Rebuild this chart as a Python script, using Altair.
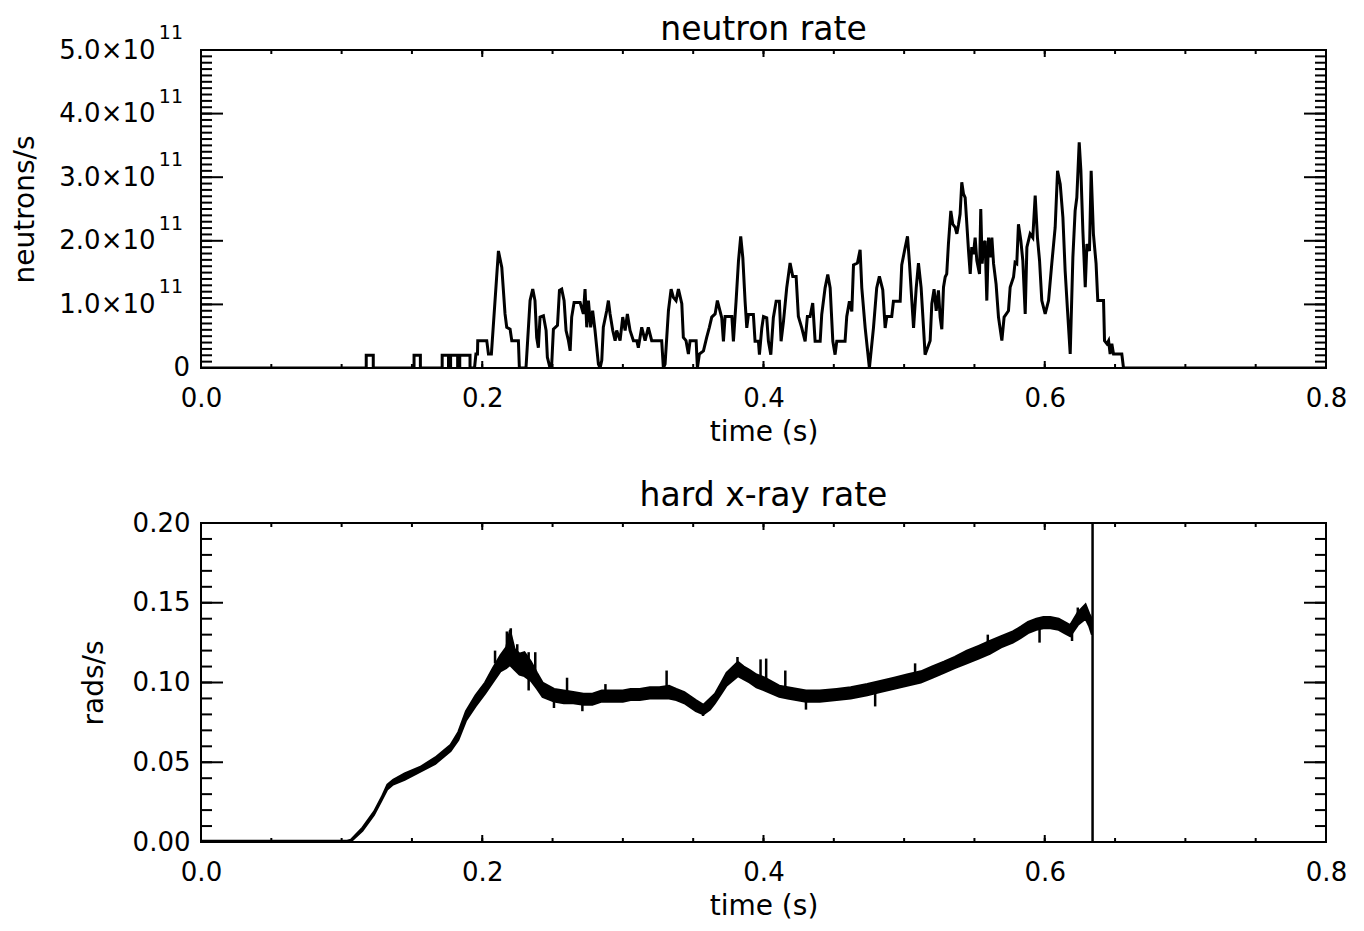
import altair as alt
import pandas as pd

# ---------------- data ----------------
# neutron rate, time (s) and value in units of 1e11 neutrons/s
neutron_t = [
    0.0, 0.1175, 0.1175, 0.1225, 0.1225,
    0.1515, 0.1515, 0.156, 0.156,
    0.1715, 0.1715, 0.176, 0.176,
    0.1775, 0.1775, 0.1825, 0.1825,
    0.184, 0.184, 0.1913, 0.1913,
    0.1945, 0.1955, 0.1966, 0.1968, 0.2032, 0.2044, 0.2065, 0.2115, 0.2139, 0.2162,
    0.2174, 0.2198, 0.2210, 0.2257, 0.2264, 0.2311, 0.2340, 0.2359, 0.2375, 0.2387,
    0.2399, 0.2411, 0.2435, 0.2454, 0.2463, 0.2482, 0.2494, 0.2506, 0.2535, 0.2549,
    0.2565, 0.2582, 0.2596, 0.2613, 0.2625, 0.2636, 0.2653, 0.2696, 0.2719, 0.2731,
    0.2743, 0.2755, 0.2771, 0.2785, 0.2802, 0.2826, 0.2838, 0.2850, 0.2861, 0.2885,
    0.2897, 0.2909, 0.2928, 0.2945, 0.2956, 0.2980, 0.2999, 0.3016, 0.3032, 0.3051,
    0.3075, 0.3099, 0.3110, 0.3134, 0.3158, 0.3181, 0.3205, 0.3276, 0.3288, 0.3300,
    0.3324, 0.3343, 0.3359, 0.3378, 0.3395, 0.3419, 0.3430, 0.3449, 0.3466, 0.3478,
    0.3521, 0.3530, 0.3544, 0.3573, 0.3596, 0.3615, 0.3632, 0.3656, 0.3672,
    0.3703, 0.3715, 0.3727, 0.3775, 0.3786, 0.3805, 0.3822, 0.3838, 0.3853, 0.3869,
    0.3881, 0.3893, 0.3928, 0.3940, 0.3964, 0.3971, 0.3988, 0.4000, 0.4023, 0.4035,
    0.4052, 0.4070, 0.4090, 0.4113, 0.4125, 0.4142, 0.4165, 0.4189, 0.4208, 0.4232,
    0.4248, 0.4272, 0.4296, 0.4312, 0.4331, 0.4350, 0.4367, 0.4403, 0.4414, 0.4438,
    0.4457, 0.4474, 0.4493, 0.4509, 0.4521, 0.4580, 0.4592, 0.4611, 0.4628, 0.4640,
    0.4668, 0.4687, 0.4699, 0.4723, 0.4753, 0.4782, 0.4805, 0.4824, 0.4848, 0.4865,
    0.4877, 0.4912, 0.4924, 0.4972, 0.4983, 0.5007, 0.5024, 0.5038, 0.5055, 0.5067,
    0.5086, 0.5102, 0.5121, 0.5138, 0.5149,
    0.5185, 0.5197, 0.5213, 0.5228, 0.5244, 0.5256, 0.5268, 0.5280, 0.5292, 0.5303,
    0.5315, 0.5332, 0.5346, 0.5363, 0.5375, 0.5387, 0.5398, 0.5410, 0.5422, 0.5434,
    0.5446, 0.5458, 0.5470, 0.5481, 0.5493, 0.5505, 0.5517, 0.5536, 0.5545, 0.5555,
    0.5565, 0.5576, 0.5588, 0.5600, 0.5612, 0.5624, 0.5636, 0.5654, 0.5671, 0.5695,
    0.5711, 0.5742, 0.5754, 0.5778, 0.5789, 0.5801, 0.5813, 0.5830, 0.5844, 0.5861,
    0.5873, 0.5896, 0.5915, 0.5932, 0.5948, 0.5963, 0.5979, 0.6003, 0.6027, 0.6050,
    0.6074, 0.6091, 0.6110, 0.6129, 0.6145, 0.6162, 0.6181, 0.6200, 0.6216, 0.6228,
    0.6245, 0.6257, 0.6271, 0.6288, 0.6300, 0.6318, 0.6330, 0.6346, 0.6365, 0.6377,
    0.6418, 0.6425, 0.6442, 0.6454, 0.6465, 0.6477, 0.6489, 0.6548, 0.6560, 0.8,
]
neutron_v = [
    0.0, 0.0, 0.2, 0.2, 0.0,
    0.0, 0.2, 0.2, 0.0,
    0.0, 0.2, 0.2, 0.0,
    0.0, 0.2, 0.2, 0.0,
    0.0, 0.2, 0.2, 0.0,
    0.0, 0.22, 0.22, 0.43, 0.43, 0.22, 0.22, 1.84, 1.58, 0.85,
    0.64, 0.61, 0.43, 0.43, 0.0, 0.0, 1.06, 1.24, 1.06, 0.48,
    0.32, 0.80, 0.82, 0.59, 0.17, 0.0, 0.06, 0.61, 0.67, 1.22,
    1.24, 1.06, 0.59, 0.43, 0.27, 0.80, 1.03, 1.03, 0.85, 1.24,
    0.64, 1.06, 0.64, 0.90, 0.59, 0.06, 0.0, 0.12, 0.64, 0.90,
    1.06, 0.85, 0.59, 0.43, 0.59, 0.43, 0.80, 0.59, 0.85, 0.59,
    0.43, 0.43, 0.32, 0.64, 0.43, 0.64, 0.43, 0.43, 0.0, 0.06,
    0.90, 1.24, 1.11, 1.06, 1.24, 1.01, 0.48, 0.43, 0.22, 0.43,
    0.43, 0.0, 0.22, 0.27, 0.48, 0.64, 0.80, 0.85, 1.06,
    0.79, 0.42, 0.81, 0.81, 0.42, 1.05, 1.68, 2.07, 1.73, 1.05,
    0.63, 0.84, 0.84, 0.42, 0.42, 0.21, 0.63, 0.81, 0.79, 0.42,
    0.21, 0.79, 1.05, 1.05, 0.42, 0.73, 1.26, 1.65, 1.44, 1.44,
    0.81, 0.63, 0.42, 0.81, 0.81, 1.02, 0.42, 0.42, 0.84, 1.26,
    1.47, 1.26, 0.42, 0.21, 0.42, 0.42, 0.81, 1.05, 0.89, 1.62,
    1.65, 1.86, 1.26, 0.63, 0.0, 0.63, 1.26, 1.44, 1.23, 0.63,
    0.81, 0.81, 1.05, 1.05, 1.62, 1.89, 2.07, 1.65, 1.05, 0.63,
    1.26, 1.65, 1.26, 0.63, 0.21,
    0.43, 1.01, 1.24, 0.90, 1.22, 0.80, 0.61, 1.27, 1.43, 1.48,
    1.95, 2.47, 2.26, 2.21, 2.11, 2.26, 2.42, 2.92, 2.74, 2.68,
    2.26, 1.84, 1.48, 1.90, 1.79, 2.05, 1.69, 1.48, 2.50, 1.64,
    1.95, 2.00, 1.06, 2.05, 1.74, 2.05, 1.64, 1.32, 0.80, 0.43,
    0.80, 0.90, 1.27, 1.43, 1.66, 1.64, 2.26, 2.00, 1.69, 0.85,
    1.90, 2.11, 2.05, 2.71, 2.05, 1.69, 1.06, 0.85, 1.06, 1.64,
    2.21, 3.10, 2.89, 2.37, 1.53, 0.90, 0.22, 1.74, 2.47, 2.68,
    3.55, 3.10, 2.16, 1.27, 1.95, 1.84, 3.10, 2.11, 1.64, 1.06,
    1.06, 0.43, 0.38, 0.43, 0.22, 0.38, 0.22, 0.22, 0.0, 0.0,
]

# hard x-ray rate (rads/s): noisy trace given as lower / upper envelope
xray_t = [
    0.0, 0.1040, 0.1066, 0.1148, 0.1230, 0.1284, 0.1325, 0.1366, 0.1448, 0.1557,
    0.1666, 0.1775, 0.1830, 0.1884, 0.1952, 0.2020, 0.2075, 0.2129, 0.2170, 0.2197,
    0.2230, 0.2265, 0.2300, 0.2347, 0.2390, 0.2429, 0.2511, 0.2580, 0.2647, 0.2720,
    0.2783, 0.2850, 0.2919, 0.3000, 0.3055, 0.3120, 0.3192, 0.3260, 0.3328, 0.3380,
    0.3437, 0.3519, 0.3573, 0.3620, 0.3655, 0.3700, 0.3737, 0.3818, 0.3860, 0.3900,
    0.3950, 0.4009, 0.4112, 0.4172, 0.4302, 0.4400, 0.4520, 0.4620, 0.4738, 0.4830,
    0.4929, 0.5020, 0.5119, 0.5200, 0.5283, 0.5360, 0.5446, 0.5530, 0.5609, 0.5690,
    0.5773, 0.5830, 0.5881, 0.5940, 0.5990, 0.6040, 0.6099, 0.6140, 0.6181, 0.6235,
    0.6290, 0.6317, 0.6335,
]
xray_lo = [
    0.0, 0.0, 0.0003, 0.007, 0.017, 0.026, 0.033, 0.036, 0.039, 0.044,
    0.049, 0.057, 0.064, 0.076, 0.085, 0.093, 0.100, 0.107, 0.109, 0.111,
    0.108, 0.105, 0.104, 0.101, 0.096, 0.091, 0.088, 0.087, 0.087, 0.086,
    0.086, 0.088, 0.088, 0.088, 0.089, 0.089, 0.090, 0.090, 0.090, 0.089,
    0.087, 0.082, 0.080, 0.083, 0.087, 0.093, 0.098, 0.104, 0.102, 0.100,
    0.097, 0.095, 0.091, 0.090, 0.088, 0.088, 0.089, 0.090, 0.092, 0.094,
    0.096, 0.098, 0.100, 0.103, 0.106, 0.109, 0.112, 0.115, 0.118, 0.122,
    0.125, 0.128, 0.131, 0.133, 0.134, 0.134, 0.133, 0.131, 0.129, 0.136,
    0.140, 0.135, 0.130,
]
xray_hi = [
    0.0008, 0.0008, 0.0015, 0.009, 0.019, 0.028, 0.036, 0.039, 0.043, 0.047,
    0.053, 0.061, 0.069, 0.082, 0.092, 0.100, 0.109, 0.117, 0.122, 0.133,
    0.121, 0.118, 0.119, 0.113, 0.106, 0.100, 0.096, 0.095, 0.094, 0.093,
    0.093, 0.095, 0.095, 0.095, 0.096, 0.096, 0.097, 0.097, 0.098, 0.096,
    0.094, 0.089, 0.086, 0.090, 0.093, 0.100, 0.106, 0.113, 0.110, 0.108,
    0.105, 0.103, 0.098, 0.097, 0.095, 0.095, 0.096, 0.097, 0.099, 0.101,
    0.103, 0.105, 0.107, 0.110, 0.113, 0.116, 0.120, 0.123, 0.126, 0.129,
    0.132, 0.135, 0.138, 0.140, 0.141, 0.141, 0.140, 0.138, 0.136, 0.144,
    0.149, 0.143, 0.140,
]
# isolated noise spikes of the x-ray trace (time, from, to)
spike_t = [0.2091, 0.2175, 0.2203, 0.2249, 0.2330, 0.2377, 0.2603, 0.2876, 0.3311,
           0.3815, 0.4019, 0.4155, 0.3979, 0.5078, 0.5595, 0.6235, 0.6290,
           0.2330, 0.2510, 0.2712, 0.3570, 0.4302, 0.4794, 0.5963, 0.6194]
spike_from = [0.112, 0.118, 0.120, 0.114, 0.108, 0.104, 0.094, 0.092, 0.095,
              0.110, 0.100, 0.094, 0.101, 0.104, 0.122, 0.140, 0.144,
              0.104, 0.092, 0.090, 0.084, 0.092, 0.095, 0.137, 0.133]
spike_to = [0.120, 0.132, 0.134, 0.124, 0.119, 0.119, 0.103, 0.099, 0.1075,
            0.116, 0.115, 0.1075, 0.1145, 0.112, 0.130, 0.147, 0.148,
            0.095, 0.084, 0.082, 0.079, 0.083, 0.085, 0.125, 0.126]
# the vertical drop at the end of the x-ray signal
xray_drop_t = [0.634]
xray_drop_lo = [0.0]
xray_drop_hi = [0.2]

# axes
x_major = [0.0, 0.2, 0.4, 0.6, 0.8]
x_major_labels = ["0.0", "0.2", "0.4", "0.6", "0.8"]
x_minor = [0.0, 0.05, 0.1, 0.15, 0.2, 0.25, 0.3, 0.35, 0.4, 0.45, 0.5,
           0.55, 0.6, 0.65, 0.7, 0.75, 0.8]

n_major = [0, 1, 2, 3, 4, 5]
n_mantissa = ["0", "1.0×10", "2.0×10", "3.0×10", "4.0×10", "5.0×10"]
n_exponent = ["", "11", "11", "11", "11", "11"]
n_minor = [round(0.1 * i, 2) for i in range(51)]

x_ray_major = [0.0, 0.05, 0.10, 0.15, 0.20]
x_ray_major_labels = ["0.00", "0.05", "0.10", "0.15", "0.20"]
x_ray_minor = [round(0.01 * i, 2) for i in range(21)]

# ---------------- styling ----------------
FONT = "DejaVu Sans"
LFS = 26      # tick labels
TFS = 28      # axis titles
PFS = 33      # panel titles
W = 1125
H1 = 318
H2 = 319
YMAJ, YMIN = 22, 11
XMAJ, XMIN = 7, 4


def label_expr(vals, labels):
    s = ""
    for v, lab in zip(vals, labels):
        s += "abs(datum.value - (%r)) < 1e-9 ? '%s' : " % (v, lab)
    return s + "''"


common_axis = dict(ticks=False, domain=False, grid=False, labelOverlap=False,
                   labelFont=FONT, labelFontSize=LFS, titleFont=FONT, titleFontSize=TFS,
                   titleFontWeight="normal", labelColor="black", titleColor="black")

x_scale = alt.Scale(domain=[0, 0.8], nice=False, zero=False)
x_axis = alt.Axis(values=x_major, labelExpr=label_expr(x_major, x_major_labels),
                  labelFlush=False, labelPadding=17, titlePadding=7, **common_axis)


def tick_layers(H, xenc, yenc, y_major, y_minor):
    layers = []
    ymaj = pd.DataFrame({"v": y_major})
    ymin = pd.DataFrame({"v": y_minor})
    xmaj = pd.DataFrame({"t": x_major})
    xmin = pd.DataFrame({"t": x_minor})
    rule = dict(color="black", strokeWidth=2)
    for df, ln in ((ymaj, YMAJ), (ymin, YMIN)):
        layers.append(alt.Chart(df).mark_rule(**rule).encode(
            y=yenc, x=alt.value(0), x2=alt.value(ln)))
        layers.append(alt.Chart(df).mark_rule(**rule).encode(
            y=yenc, x=alt.value(W), x2=alt.value(W - ln)))
    for df, ln in ((xmaj, XMAJ), (xmin, XMIN)):
        layers.append(alt.Chart(df).mark_rule(**rule).encode(
            x=xenc, y=alt.value(H), y2=alt.value(H - ln)))
        layers.append(alt.Chart(df).mark_rule(**rule).encode(
            x=xenc, y=alt.value(0), y2=alt.value(ln)))
    return layers


def title(text, offset):
    return alt.TitleParams(text, font=FONT, fontSize=PFS, fontWeight="normal",
                           color="black", frame="group", anchor="middle", offset=offset)


# ---------------- top panel: neutron rate ----------------
xenc = alt.X("t:Q", scale=x_scale, axis=x_axis, title="time (s)")
n_axis = alt.Axis(values=n_major[1:], labelExpr=label_expr(n_major[1:], n_mantissa[1:]),
                  labelPadding=46, titlePadding=19, **common_axis)
yenc1 = alt.Y("v:Q", scale=alt.Scale(domain=[0, 5], nice=False, zero=False),
              axis=n_axis, title="neutrons/s")

neutron_df = pd.DataFrame({"t": neutron_t, "v": neutron_v,
                           "i": list(range(len(neutron_t)))})
neutron_line = alt.Chart(neutron_df).mark_line(
    color="black", strokeWidth=3, interpolate="linear", clip=True
).encode(x=xenc, y=yenc1, order="i:Q")

# exponent "11" set as a superscript next to each mantissa label, and the "0" label
exp_df = pd.DataFrame({"v": n_major[1:], "lab": n_exponent[1:]})
exp_text = alt.Chart(exp_df).mark_text(
    font=FONT, fontSize=19, align="right", baseline="middle", dy=-17, color="black"
).encode(y=yenc1, x=alt.value(-18), text="lab:N")
zero_df = pd.DataFrame({"v": n_major[:1], "lab": n_mantissa[:1]})
zero_text = alt.Chart(zero_df).mark_text(
    font=FONT, fontSize=LFS, align="right", baseline="middle", color="black"
).encode(y=yenc1, x=alt.value(-11), text="lab:N")

top = alt.layer(neutron_line, exp_text, zero_text,
                *tick_layers(H1, xenc, yenc1, n_major, n_minor)).properties(
    width=W, height=H1, title=title("neutron rate", -23))

# ---------------- bottom panel: hard x-ray rate ----------------
r_axis = alt.Axis(values=x_ray_major, labelExpr=label_expr(x_ray_major, x_ray_major_labels),
                  labelPadding=11, titlePadding=24, **common_axis)
yenc2 = alt.Y("v:Q", scale=alt.Scale(domain=[0, 0.2], nice=False, zero=False),
              axis=r_axis, title="rads/s")

xray_df = pd.DataFrame({"t": xray_t, "v": xray_lo, "v2": xray_hi})
xray_band = alt.Chart(xray_df).mark_area(color="black", opacity=1, clip=True,
                                         stroke="black", strokeWidth=2,
                                         strokeJoin="miter").encode(
    x=xenc, y=yenc2, y2="v2:Q")
spike_df = pd.DataFrame({"t": spike_t, "v": spike_from, "v2": spike_to})
xray_spikes = alt.Chart(spike_df).mark_rule(color="black", strokeWidth=2.5).encode(
    x=xenc, y=yenc2, y2="v2:Q")
drop_df = pd.DataFrame({"t": xray_drop_t, "v": xray_drop_lo, "v2": xray_drop_hi})
xray_drop = alt.Chart(drop_df).mark_rule(color="black", strokeWidth=2.5).encode(
    x=xenc, y=yenc2, y2="v2:Q")

bottom = alt.layer(xray_band, xray_spikes, xray_drop,
                   *tick_layers(H2, xenc, yenc2, x_ray_major, x_ray_minor)).properties(
    width=W, height=H2, title=title("hard x-ray rate", -3))

chart = alt.vconcat(top, bottom, spacing=32).properties(
    padding={"left": 2, "top": 5, "right": 5, "bottom": 5},
    background="white",
).configure_view(stroke="black", strokeWidth=2)

chart.save("out.html", embed_options={"renderer": "svg", "actions": False})
